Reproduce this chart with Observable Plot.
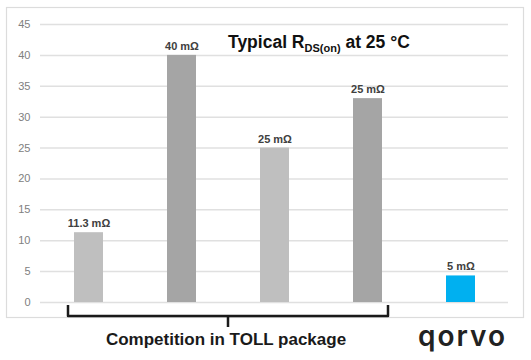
<!DOCTYPE html>
<html><head><meta charset="utf-8">
<script src="https://cdn.jsdelivr.net/npm/d3@7"></script>
<script src="https://cdn.jsdelivr.net/npm/@observablehq/plot@0.6"></script>
<style>body{margin:0;background:#fff} #chart{width:531px;height:360px;position:relative}</style>
</head><body><div id="chart"></div>
<script>
const categories = ["Competitor A","Competitor B","Competitor C","Competitor D","Qorvo"];
const values = [11.3, 40, 25, 33, 4.3];
const valueLabels = ["11.3 mΩ","40 mΩ","25 mΩ","25 mΩ","5 mΩ"];
const barColors = ["#bfbfbf","#a5a5a5","#bfbfbf","#a5a5a5","#00b0f0"];
const yTicks = [0,5,10,15,20,25,30,35,40,45];
const titleMain = "Typical R", titleSub = "DS(on)", titleRest = " at 25 °C";
const bracketLabel = "Competition in TOLL package";
const logoText = "qorvo";

const data = categories.map((c,i)=>({category:c, value:values[i], label:valueLabels[i], color:barColors[i]}));

const plot = Plot.plot({
  width:531, height:360, marginTop:24, marginBottom:58, marginLeft:40, marginRight:23,
  style:{background:"#fff", fontFamily:"'Liberation Sans', Arial, sans-serif", overflow:"visible"},
  x:{domain:categories, paddingInner:0.69, paddingOuter:0.345, axis:null},
  y:{domain:[0,45], axis:null},
  color:{type:"identity"},
  marks:[
    Plot.frame({stroke:"#dcdcdc", strokeWidth:1.2, insetLeft:-34, insetTop:-17, insetRight:-15, insetBottom:-15}),
    Plot.ruleY(yTicks, {stroke:"#e0e0e0", strokeWidth:1.5}),
    Plot.axisY(yTicks, {tickSize:0, tickPadding:10, fontSize:11, fill:"#808080", label:null}),
    Plot.barY(data, {x:"category", y:"value", fill:"color"}),
    Plot.text(data, {x:"category", y:"value", text:"label", dy:-9, fontSize:11, fontWeight:"bold", fill:"#404040"})
  ]
});
document.getElementById("chart").appendChild(plot);

const svg = d3.select(plot);
const xs = plot.scale("x"), ys = plot.scale("y");
const bw = xs.bandwidth;
const bx0 = xs.apply(categories[0]) - 6;
const bx1 = xs.apply(categories[3]) + bw + 6;
const by0 = ys.apply(0);
const bm = (bx0 + bx1) / 2;

svg.append("path")
  .attr("d", `M${bx0},${by0+3} L${bx0},${by0+14} L${bx1},${by0+14} L${bx1},${by0+3} M${bm},${by0+14} L${bm},${by0+25}`)
  .attr("fill","none").attr("stroke","#1a1a1a").attr("stroke-width",2.5).attr("stroke-linejoin","round");

svg.append("text")
  .attr("x", bm - 2).attr("y", 345)
  .attr("text-anchor","middle")
  .attr("font-size",17).attr("font-weight","bold").attr("fill","#1a1a1a")
  .text(bracketLabel);

const t = svg.append("text")
  .attr("x", 228).attr("y", 48)
  .attr("text-anchor","start")
  .attr("font-size",17.5).attr("font-weight","bold").attr("fill","#111");
t.append("tspan").text(titleMain);
t.append("tspan").attr("font-size",11).attr("dy",4).text(titleSub);
t.append("tspan").attr("dy",-4).text(titleRest);

svg.append("text")
  .attr("x", xs.apply(categories[4]) + bw/2 + 2).attr("y", 346)
  .attr("text-anchor","middle")
  .attr("font-family","Inter, sans-serif").attr("font-size",28).attr("font-weight",600)
  .attr("letter-spacing",2).attr("fill","#222")
  .text(logoText);
</script>
</body></html>
